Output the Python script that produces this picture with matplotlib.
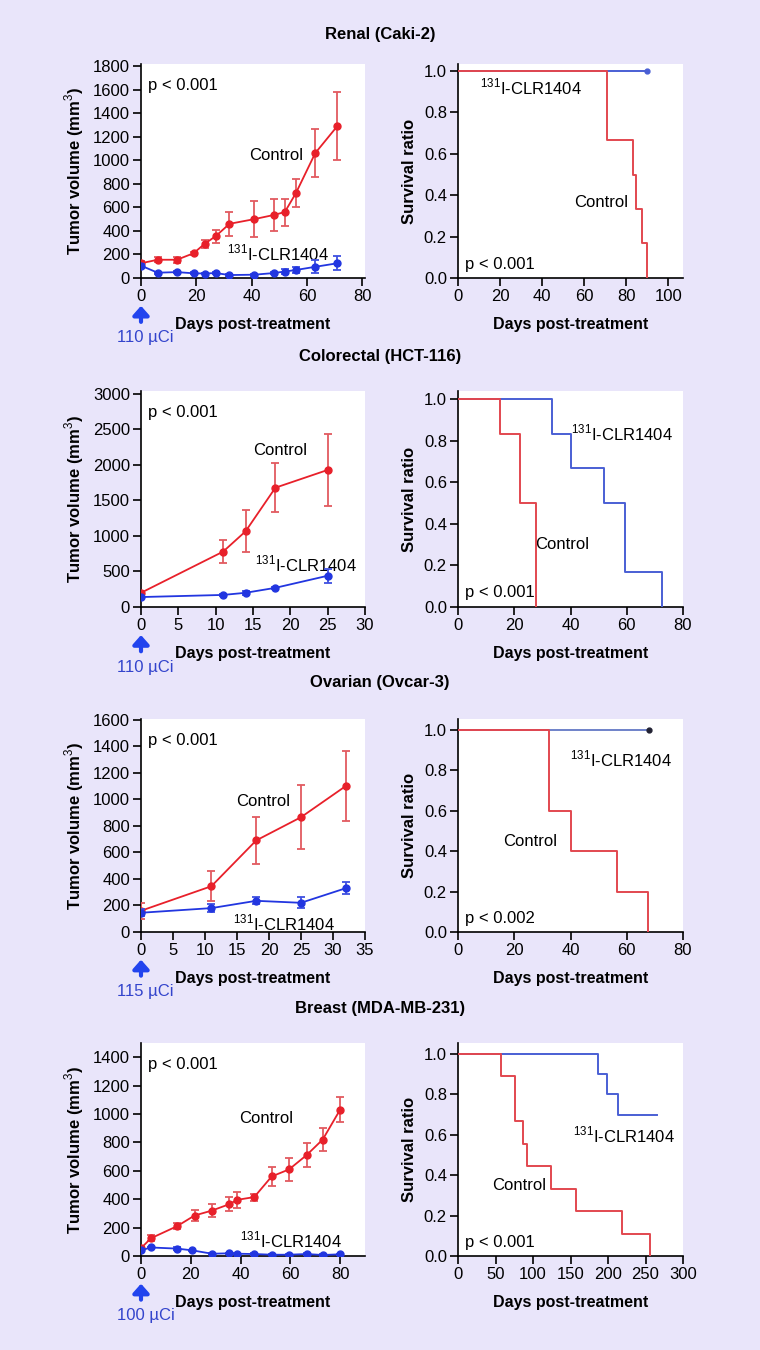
import matplotlib
matplotlib.use('Agg')
import matplotlib.pyplot as plt
import matplotlib.transforms as mtransforms

plt.rcParams['font.family'] = ['Liberation Sans', 'DejaVu Sans']
plt.rcParams['mathtext.fontset'] = 'custom'
plt.rcParams['mathtext.rm'] = 'Liberation Sans'
plt.rcParams['font.size'] = 12

# ---- data ----
titles = ['Renal (Caki-2)', 'Colorectal (HCT-116)', 'Ovarian (Ovcar-3)', 'Breast (MDA-MB-231)']
doses = ['110 µCi', '110 µCi', '115 µCi', '100 µCi']
pvals_tumor = ['p < 0.001', 'p < 0.001', 'p < 0.001', 'p < 0.001']
pvals_surv = ['p < 0.001', 'p < 0.001', 'p < 0.002', 'p < 0.001']

# tumor volume, renal
renal_ctrl_day = [0, 6, 13, 19, 23, 27, 32, 41, 48, 52, 56, 63, 71]
renal_ctrl_vol = [125, 155, 155, 210, 290, 355, 460, 500, 535, 560, 720, 1060, 1290]
renal_ctrl_err = [20, 20, 25, 15, 35, 55, 100, 155, 135, 115, 120, 205, 292]
renal_trt_day = [0, 6, 13, 19, 23, 27, 32, 41, 48, 52, 56, 63, 71]
renal_trt_vol = [105, 45, 50, 40, 38, 42, 25, 28, 42, 55, 68, 95, 125]
renal_trt_err = [10, 8, 8, 8, 8, 8, 8, 8, 10, 20, 25, 55, 60]

# tumor volume, colorectal
colo_ctrl_day = [0, 11, 14, 18, 25]
colo_ctrl_vol = [200, 780, 1065, 1680, 1930]
colo_ctrl_err = [15, 160, 295, 345, 505]
colo_trt_day = [0, 11, 14, 18, 25]
colo_trt_vol = [140, 170, 200, 270, 440]
colo_trt_err = [10, 15, 30, 15, 95]

# tumor volume, ovarian
ovar_ctrl_day = [0, 11, 18, 25, 32]
ovar_ctrl_vol = [160, 345, 690, 865, 1100]
ovar_ctrl_err = [60, 115, 180, 240, 265]
ovar_trt_day = [0, 11, 18, 25, 32]
ovar_trt_vol = [145, 180, 235, 220, 330]
ovar_trt_err = [25, 30, 25, 40, 45]

# tumor volume, breast
brst_ctrl_day = [0, 4, 14.5, 21.5, 28.5, 35.5, 38.5, 45.5, 52.5, 59.5, 66.5, 73, 80]
brst_ctrl_vol = [55, 125, 210, 285, 320, 365, 395, 415, 560, 610, 710, 820, 1030]
brst_ctrl_err = [10, 20, 20, 40, 45, 50, 55, 25, 65, 80, 85, 80, 88]
brst_trt_day = [0, 4, 14.5, 20.5, 28.5, 35.5, 38.5, 45.5, 52.5, 59.5, 66.5, 73, 80]
brst_trt_vol = [40, 60, 52, 40, 16, 19, 16, 14, 9, 9, 14, 7, 12]
brst_trt_err = [8, 5, 8, 5, 4, 4, 4, 4, 4, 4, 4, 4, 4]

# survival (Kaplan-Meier steps)
renal_ctrl_t = [0, 71, 83, 84.5, 87.5, 90]
renal_ctrl_s = [1.0, 0.667, 0.5, 0.333, 0.167, 0.0]
renal_trt_t = [0, 90]
renal_trt_s = [1.0, 1.0]

colo_ctrl_t = [0, 15, 22, 27.7]
colo_ctrl_s = [1.0, 0.833, 0.5, 0.0]
colo_trt_t = [0, 33.3, 40, 52, 59.5, 72.5]
colo_trt_s = [1.0, 0.833, 0.667, 0.5, 0.167, 0.0]

ovar_ctrl_t = [0, 32.5, 40, 56.5, 67.5]
ovar_ctrl_s = [1.0, 0.6, 0.4, 0.2, 0.0]
ovar_trt_t = [0, 68]
ovar_trt_s = [1.0, 1.0]

brst_ctrl_t = [0, 57, 75.5, 86.5, 92.5, 124, 157.5, 219, 255.5]
brst_ctrl_s = [1.0, 0.889, 0.667, 0.556, 0.444, 0.333, 0.222, 0.111, 0.0]
brst_trt_t = [0, 186.5, 198.5, 213, 265]
brst_trt_s = [1.0, 0.9, 0.8, 0.7, 0.7]

BG = '#e9e5fa'
RED = '#e8202a'
RED_ERR = '#e25a60'
BLUE = '#2236e0'
KM_RED = '#e2474f'
KM_BLUE = '#4a5fd4'
ARROW = '#2244ee'
LBL = r'$^{131}$I-CLR1404'

fig = plt.figure(figsize=(7.6, 13.5), dpi=100, facecolor=BG)

left_x, left_w = 141 / 760, 224 / 760
right_x, right_w = 458 / 760, 225 / 760
rows = [(64, 278), (391, 607), (719, 932), (1043, 1256)]
title_y = [35, 357, 683, 1008]


def style(ax):
    ax.set_facecolor('white')
    for s in ['top', 'right']:
        ax.spines[s].set_visible(False)
    for s in ['left', 'bottom']:
        ax.spines[s].set_linewidth(1.2)
    ax.tick_params(direction='out', length=6, width=1.2, labelsize=12, pad=2)


def tumor_panel(ax, cd, cv, ce, td, tv, te, xlim, ylim, xt, yt, pval, ctrl_pos, trt_pos, dose):
    style(ax)
    ax.errorbar(cd, cv, yerr=ce, color=RED, ecolor=RED_ERR, marker='o', ms=5, lw=1.3,
                elinewidth=1.3, capsize=3, capthick=1.3, zorder=3)
    ax.errorbar(td, tv, yerr=te, color=BLUE, ecolor='#3f50e0', marker='o', ms=5, lw=1.3,
                elinewidth=1.3, capsize=3, capthick=1.3, zorder=4)
    ax.set_xlim(*xlim)
    ax.set_ylim(*ylim)
    ax.set_xticks(xt)
    ax.set_yticks(yt)
    ax.set_ylabel('Tumor volume (mm$^3$)', fontweight='bold', fontsize=12, labelpad=5)
    ax.set_xlabel('Days post-treatment', fontweight='bold', fontsize=11.5, labelpad=9)
    ax.text(0.03, 0.9, pval, transform=ax.transAxes, fontsize=12, va='center')
    ax.text(ctrl_pos[0], ctrl_pos[1], 'Control', fontsize=12, va='center')
    ax.text(trt_pos[0], trt_pos[1], LBL, fontsize=12, va='center')
    tr = mtransforms.blended_transform_factory(ax.transData, ax.transAxes)
    ax.annotate('', xy=(0, -0.13), xytext=(0, -0.205), xycoords=tr, textcoords=tr,
                arrowprops=dict(arrowstyle='-|>,head_width=0.4,head_length=0.45', lw=3,
                                color=ARROW, shrinkA=0, shrinkB=0), annotation_clip=False)
    ax.text(0.02 * (xlim[1] - xlim[0]), -0.278, dose, transform=tr, color='#3344cc',
            fontsize=12, ha='center', va='center', clip_on=False)


def surv_panel(ax, ct, cs, tt, ts, xlim, ylim, xt, pval, ctrl_pos, trt_pos, tblue=KM_BLUE, dot=False):
    style(ax)
    ax.step(tt, ts, where='post', color=tblue, lw=1.4, zorder=3)
    ax.step(ct, cs, where='post', color=KM_RED, lw=1.4, zorder=4)
    if dot:
        ax.plot(tt[-1:], ts[-1:], 'o', color=tblue if tblue == KM_BLUE else '#222233', ms=3.5, zorder=5)
    ax.set_xlim(*xlim)
    ax.set_ylim(*ylim)
    ax.set_xticks(xt)
    ax.set_yticks([0, 0.2, 0.4, 0.6, 0.8, 1.0])
    ax.set_yticklabels(['0.0', '0.2', '0.4', '0.6', '0.8', '1.0'])
    ax.set_ylabel('Survival ratio', fontweight='bold', fontsize=12, labelpad=5)
    ax.set_xlabel('Days post-treatment', fontweight='bold', fontsize=11.5, labelpad=9)
    ax.text(0.03, 0.065, pval, transform=ax.transAxes, fontsize=12, va='center')
    ax.text(ctrl_pos[0], ctrl_pos[1], 'Control', fontsize=12, va='center')
    ax.text(trt_pos[0], trt_pos[1], LBL, fontsize=12, va='center')


axes = []
for top, bot in rows:
    b = 1 - bot / 1350
    h = (bot - top) / 1350
    axes.append((fig.add_axes([left_x, b, left_w, h]), fig.add_axes([right_x, b, right_w, h])))

tumor_panel(axes[0][0], renal_ctrl_day, renal_ctrl_vol, renal_ctrl_err,
            renal_trt_day, renal_trt_vol, renal_trt_err,
            (0, 81), (0, 1817), range(0, 81, 20), range(0, 1801, 200), pvals_tumor[0],
            (39, 1044), (31, 212), doses[0])
surv_panel(axes[0][1], renal_ctrl_t, renal_ctrl_s, renal_trt_t, renal_trt_s,
           (0, 107), (0, 1.034), range(0, 101, 20), pvals_surv[0], (55, 0.367), (10.5, 0.92),
           dot=True)

tumor_panel(axes[1][0], colo_ctrl_day, colo_ctrl_vol, colo_ctrl_err,
            colo_trt_day, colo_trt_vol, colo_trt_err,
            (0, 30), (0, 3042), range(0, 31, 5), range(0, 3001, 500), pvals_tumor[1],
            (15, 2211), (15.3, 605), doses[1])
surv_panel(axes[1][1], colo_ctrl_t, colo_ctrl_s, colo_trt_t, colo_trt_s,
           (0, 80), (0, 1.038), range(0, 81, 20), pvals_surv[1], (27.4, 0.30), (40.2, 0.837))

tumor_panel(axes[2][0], ovar_ctrl_day, ovar_ctrl_vol, ovar_ctrl_err,
            ovar_trt_day, ovar_trt_vol, ovar_trt_err,
            (0, 35), (0, 1605), range(0, 36, 5), range(0, 1601, 200), pvals_tumor[2],
            (14.8, 984), (14.4, 68), doses[2])
surv_panel(axes[2][1], ovar_ctrl_t, ovar_ctrl_s, ovar_trt_t, ovar_trt_s,
           (0, 80), (0, 1.054), range(0, 81, 20), pvals_surv[2], (16, 0.448), (39.9, 0.854),
           tblue='#6f82c9', dot=True)

tumor_panel(axes[3][0], brst_ctrl_day, brst_ctrl_vol, brst_ctrl_err,
            brst_trt_day, brst_trt_vol, brst_trt_err,
            (0, 90), (0, 1500), range(0, 81, 20), range(0, 1401, 200), pvals_tumor[3],
            (39.4, 965), (39.8, 113), doses[3])
surv_panel(axes[3][1], brst_ctrl_t, brst_ctrl_s, brst_trt_t, brst_trt_s,
           (0, 300), (0, 1.054), range(0, 301, 50), pvals_surv[3], (45, 0.35), (153, 0.60))

for t, y in zip(titles, title_y):
    fig.text(380 / 760, 1 - y / 1350, t, ha='center', va='center', fontweight='bold', fontsize=12)

fig.savefig('out.png', dpi=100, facecolor=BG)
